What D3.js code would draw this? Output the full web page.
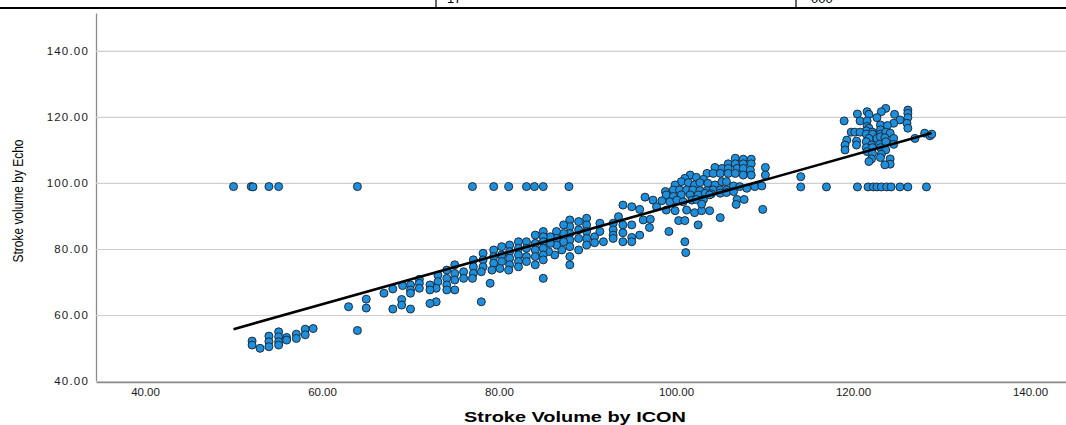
<!DOCTYPE html>
<html>
<head>
<meta charset="utf-8">
<script src="https://cdn.jsdelivr.net/npm/d3@7"></script>
<style>
  body { margin: 0; background: #fff; }
  svg { display: block; }
</style>
</head>
<body>
<svg id="chart" width="1066" height="425"></svg>
<script>
// [Stroke Volume by ICON, Stroke volume by Echo]
const lowCluster = [
  [52.1,52.1],[52.1,50.9],[53.0,49.9],[54.0,53.6],[54.0,51.9],[54.0,50.4],[55.1,54.9],[55.1,53.4],
  [55.1,51.9],[55.1,50.9],[56.0,53.2],[56.0,52.4],[57.1,54.2],[57.1,52.9],[58.1,55.7],[58.1,54.0],
  [59.0,55.9],[64.0,55.3],[63.0,62.5],[65.0,64.8],[65.0,62.1],[67.0,66.6],[68.0,67.9],[68.0,61.8],
  [69.0,64.7],[69.0,63.0],[70.0,61.8],[69.1,68.9],[70.0,69.1],[70.0,67.6],[70.0,66.6],[71.0,70.8],
  [71.0,69.6],[71.0,68.1]
];
const midBand = [
  [90.8,83.7],[90.8,81.9],[89.9,89.3],[89.9,87.3],[89.9,85.3],[89.9,83.2],[89.9,81.2],[89.0,88.3],
  [89.0,85.8],[89.0,83.2],[89.0,79.7],[88.0,88.8],[88.0,86.8],[88.0,84.7],[88.0,82.7],[88.0,80.7],
  [88.0,77.7],[88.0,75.2],[87.3,87.3],[87.3,84.7],[87.3,82.2],[87.1,79.7],[86.5,85.3],[86.5,83.2],
  [86.5,81.2],[86.3,78.2],[85.8,83.7],[85.8,81.7],[85.6,79.2],[85.0,85.3],[85.0,83.7],[85.0,82.2],
  [85.0,80.2],[85.0,78.2],[85.0,76.7],[85.0,71.1],[84.1,84.2],[84.1,81.7],[84.1,79.7],[84.1,77.7],
  [84.1,75.2],[83.1,82.2],[83.1,80.2],[83.1,77.7],[83.1,76.2],[82.2,82.2],[82.2,80.2],[82.2,78.2],
  [82.2,76.2],[82.2,74.6],[81.2,81.2],[81.2,79.2],[81.2,77.2],[81.2,75.2],[81.1,73.6],[80.3,80.7],
  [80.3,78.2],[80.3,76.2],[80.1,74.1],[79.4,79.7],[79.4,77.7],[79.4,75.7],[79.2,73.6],[78.2,78.7],
  [78.2,76.7],[78.2,74.6],[78.0,73.1],[77.1,76.7],[77.1,74.6],[77.1,72.6],[77.0,71.1],[76.0,73.1],
  [76.0,71.1],[75.0,75.2],[75.0,72.6],[75.0,70.6],[75.0,67.6],[74.1,73.6],[74.1,71.1],[74.1,69.1],
  [74.1,67.6],[73.1,72.1],[73.1,70.1],[72.9,68.1],[72.9,64.0],[72.2,69.1],[72.2,67.6],[72.2,63.5],
  [79.0,69.6],[78.0,64.0]
];
const upperBand = [
  [106.7,107.5],[107.6,107.2],[108.5,107.2],[105.9,105.8],[106.7,105.8],[107.6,105.8],[108.5,105.8],[104.4,104.7],
  [105.2,104.4],[105.9,104.4],[106.9,104.4],[107.6,104.4],[108.4,103.9],[110.1,104.7],[103.5,102.9],[104.2,102.9],
  [105.0,102.9],[105.9,102.9],[106.7,102.9],[107.6,102.4],[108.5,102.4],[110.1,102.4],[101.6,102.4],[102.3,101.7],
  [103.1,101.1],[101.0,101.4],[100.6,100.4],[99.9,99.4],[101.4,100.1],[102.1,99.4],[102.7,100.1],[103.6,99.9],
  [104.4,99.4],[105.2,100.4],[105.7,100.4],[106.5,99.1],[107.2,98.9],[108.0,98.4],[108.9,98.9],[109.7,99.1],
  [98.8,97.4],[99.7,97.9],[100.4,97.9],[101.2,97.9],[101.9,97.9],[102.7,97.7],[103.5,97.7],[104.2,97.9],
  [105.0,97.9],[105.7,97.9],[98.9,96.4],[99.7,95.9],[100.6,96.4],[101.6,96.4],[102.5,96.4],[103.3,96.9],
  [104.0,96.7],[105.0,96.9],[105.7,97.1],[106.5,97.4],[96.5,95.7],[97.4,94.8],[98.4,94.6],[99.3,94.3],
  [100.1,94.8],[100.8,94.3],[101.8,94.8],[102.3,95.0],[103.1,95.0],[103.8,96.4],[106.9,95.0],[107.7,95.0],
  [94.0,93.3],[95.0,92.8],[95.9,92.0],[97.8,92.8],[98.9,91.8],[99.9,91.6],[101.2,91.8],[102.1,91.0],
  [102.9,91.6],[103.8,91.6],[102.9,93.6],[106.8,93.5],[109.8,92.0],[93.5,89.8],[96.3,88.8],[97.1,89.0],
  [100.3,88.6],[101.0,88.6],[105.0,89.5],[102.5,87.3],[91.4,87.8],[92.9,87.8],[94.0,87.3],[95.0,87.3],
  [97.0,86.5],[95.9,84.2],[95.0,83.5],[92.9,85.8],[92.9,84.2],[92.9,83.2],[94.0,84.9],[94.0,82.2],
  [95.0,82.2],[91.4,85.3],[91.8,82.2],[99.2,85.3],[101.0,82.2],[101.1,78.9]
];
const highCluster = [
  [123.7,122.6],[123.2,121.6],[121.6,121.6],[120.5,120.9],[121.8,120.8],[122.7,119.8],[124.7,120.8],[126.2,122.1],
  [126.2,121.1],[126.2,119.8],[125.3,119.1],[124.6,118.1],[126.1,118.1],[126.2,116.6],[119.0,118.8],[120.8,118.8],
  [121.6,118.8],[123.1,117.6],[123.9,117.4],[121.6,117.1],[121.8,116.6],[121.5,115.8],[123.1,116.1],[122.2,115.4],
  [119.8,115.4],[120.2,115.4],[120.8,115.4],[121.5,114.8],[122.2,114.8],[123.1,114.8],[123.7,115.4],[124.2,115.1],
  [121.8,113.5],[122.7,113.5],[123.1,114.0],[123.6,113.7],[124.6,113.5],[119.3,113.0],[120.4,112.7],[120.4,111.5],
  [119.1,111.5],[121.5,112.5],[122.1,111.5],[123.0,111.7],[123.7,112.5],[124.6,111.7],[121.5,110.7],[122.2,110.7],
  [123.1,110.7],[123.7,110.0],[119.1,110.0],[121.6,109.5],[122.2,109.0],[123.2,108.7],[123.1,107.7],[124.2,107.3],
  [122.1,107.3],[121.8,106.5],[124.2,105.7],[123.6,105.5],[127.0,113.5],[128.1,115.1],[128.7,114.3],[128.9,114.8],
  [114.1,101.9]
];
// points sitting on the ~98.9 line
const echoFlat = [
  [50.0,98.9],[52.0,98.9],[52.2,98.8],[54.0,98.9],[55.1,98.9],[64.0,98.9],[77.0,98.9],[79.4,98.9],
  [81.1,98.9],[83.1,98.9],[84.0,98.9],[85.0,98.9],[87.9,98.9],[114.1,98.8],[117.0,98.8],[120.5,98.8],
  [121.7,98.8],[122.3,98.8],[122.7,98.8],[123.2,98.8],[123.8,98.8],[124.3,98.8],[125.3,98.8],[126.2,98.8],
  [128.3,98.8]
];
const xTicks = [40, 60, 80, 100, 120, 140];
const yTicks = [40, 60, 80, 100, 120, 140];
// fit line: echo = a + b * icon
const fitIntercept = 18.05;
const fitSlope = 0.753;

const points = [].concat(lowCluster, midBand, upperBand, highCluster, echoFlat);

const svg = d3.select("#chart");
const fmt = d3.format(".2f");

const x = d3.scaleLinear().domain([34.46, 144.07]).range([96, 1066]);
const y = d3.scaleLinear().domain([40, 151.5]).range([381, 13]);

// bits of the table above the chart
svg.append("line").attr("x1", 0).attr("x2", 1066).attr("y1", 8).attr("y2", 8)
  .attr("stroke", "#000").attr("stroke-width", 2);
[436, 796].forEach(px => {
  svg.append("line").attr("x1", px).attr("x2", px).attr("y1", 0).attr("y2", 8)
    .attr("stroke", "#000").attr("stroke-width", 1.2);
});
svg.append("text").attr("x", 447).attr("y", 3).style("font", "13px 'Liberation Sans', Arial").text("17");
svg.append("text").attr("x", 811).attr("y", 3).style("font", "13px 'Liberation Sans', Arial").text("000");

// y axis + grid
const yAxis = svg.append("g")
  .attr("transform", "translate(96,0)")
  .call(d3.axisLeft(y).tickValues(yTicks).tickSize(-970).tickSizeOuter(0).tickPadding(7).tickFormat(fmt));
yAxis.select(".domain").attr("stroke", "#8a8a8a").attr("stroke-width", 1.3);
yAxis.selectAll(".tick line").attr("stroke", "#cfcfcf").attr("stroke-width", 1.2);
yAxis.selectAll(".tick text")
  .style("font-family", "'Liberation Sans', Arial, sans-serif")
  .style("font-size", "11.5px")
  .style("letter-spacing", "1.2px")
  .attr("fill", "#1a1a1a");

// x axis
const xAxis = svg.append("g")
  .attr("transform", "translate(0,382)")
  .call(d3.axisBottom(x).tickValues(xTicks).tickSize(0).tickPadding(6).tickFormat(fmt));
xAxis.select(".domain").attr("stroke", "#8a8a8a").attr("stroke-width", 1.3);
xAxis.selectAll(".tick text")
  .style("font-family", "'Liberation Sans', Arial, sans-serif")
  .style("font-size", "11.5px")
  .attr("fill", "#1a1a1a");

// points
svg.append("g").selectAll("circle")
  .data(points)
  .enter().append("circle")
  .attr("cx", d => x(d[0]))
  .attr("cy", d => y(d[1]))
  .attr("r", 4)
  .attr("fill", "#1e8fdc")
  .attr("stroke", "#1d2b3a")
  .attr("stroke-width", 1);

// fit line over the data range
const xMin = d3.min(points, d => d[0]);
const xMax = d3.max(points, d => d[0]);
svg.append("line")
  .attr("x1", x(xMin)).attr("y1", y(fitIntercept + fitSlope * xMin))
  .attr("x2", x(xMax)).attr("y2", y(fitIntercept + fitSlope * xMax))
  .attr("stroke", "#000")
  .attr("stroke-width", 2.6);

// axis titles
svg.append("text")
  .attr("transform", "translate(23,201) rotate(-90)")
  .attr("text-anchor", "middle")
  .attr("textLength", 123)
  .attr("lengthAdjust", "spacingAndGlyphs")
  .style("font-family", "'Liberation Sans', Arial, sans-serif")
  .style("font-size", "15px")
  .text("Stroke volume by Echo");

svg.append("text")
  .attr("x", 575)
  .attr("y", 422)
  .attr("text-anchor", "middle")
  .attr("textLength", 222)
  .attr("lengthAdjust", "spacingAndGlyphs")
  .style("font-family", "'Liberation Sans', Arial, sans-serif")
  .style("font-size", "15px")
  .style("font-weight", "bold")
  .text("Stroke Volume by ICON");
</script>
</body>
</html>
